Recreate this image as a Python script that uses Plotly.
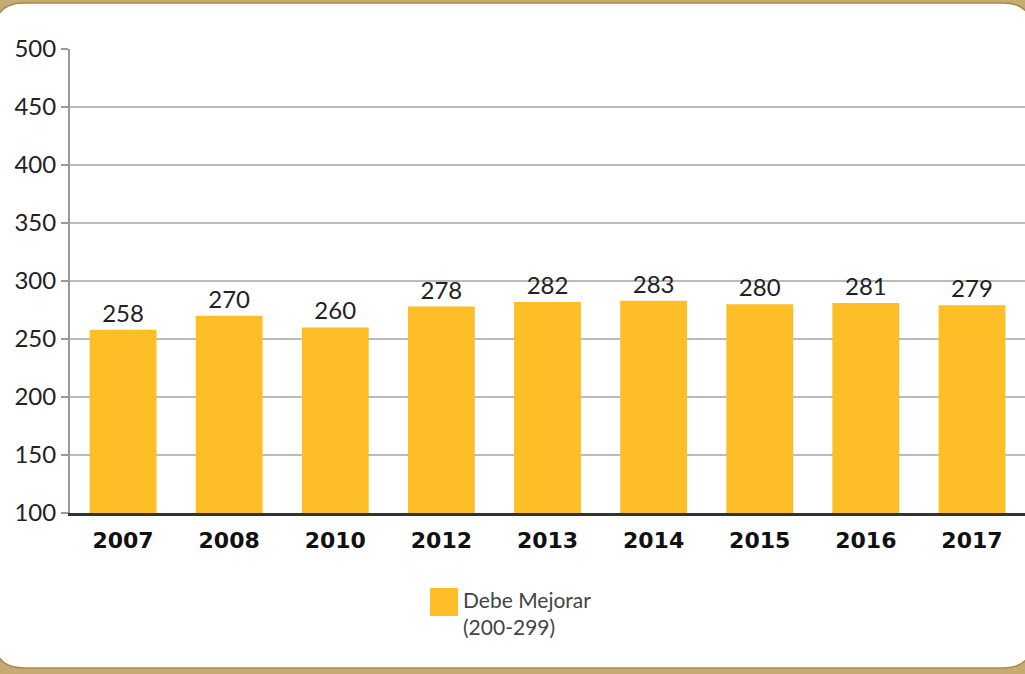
import plotly.graph_objects as go

years = ["2007", "2008", "2010", "2012", "2013", "2014", "2015", "2016", "2017"]
scores = [258, 270, 260, 278, 282, 283, 280, 281, 279]
series_name = "Debe Mejorar"
series_range = "(200-299)"
y_ticks = [100, 150, 200, 250, 300, 350, 400, 450, 500]

BAR = "#FDBE28"
TAN = "#C6AA72"

W, H = 1025, 674
L, R, T, B = 70, 0, 49, 161
pw, ph = W - L - R, H - T - B

def px(x):
    return (x - L) / pw

def py(y):
    return (H - B - y) / ph

fig = go.Figure()
fig.add_trace(go.Bar(
    x=years, y=scores, name=series_name,
    marker=dict(color=BAR, line=dict(width=0)),
    text=[str(v) for v in scores], textposition="outside",
    textfont=dict(family="Lato", size=24, color="#222222"),
    cliponaxis=False, showlegend=False,
))

# rounded white panel
x0, x1, y0, y1, r = -6, 1033, 3, 668, 30
path = (f"M {px(x0)},{py(y0 + r)} Q {px(x0)},{py(y0)} {px(x0 + r)},{py(y0)} "
        f"L {px(x1 - r)},{py(y0)} Q {px(x1)},{py(y0)} {px(x1)},{py(y0 + r)} "
        f"L {px(x1)},{py(y1 - r)} Q {px(x1)},{py(y1)} {px(x1 - r)},{py(y1)} "
        f"L {px(x0 + r)},{py(y1)} Q {px(x0)},{py(y1)} {px(x0)},{py(y1 - r)} Z")
shapes = [dict(type="path", xref="paper", yref="paper", path=path,
               fillcolor="white", line=dict(color="#A88A4E", width=1.5), layer="below")]
# legend swatch
shapes.append(dict(type="rect", xref="paper", yref="paper",
                   x0=px(430), x1=px(458), y0=py(616), y1=py(588),
                   fillcolor=BAR, line=dict(width=0)))

fig.update_layout(
    width=W, height=H,
    margin=dict(l=L, r=R, t=T, b=B),
    paper_bgcolor=TAN, plot_bgcolor="rgba(0,0,0,0)",
    bargap=0.37,
    shapes=shapes,
    annotations=[dict(xref="paper", yref="paper", x=px(461), y=py(613),
                      xanchor="left", yanchor="middle", align="left", showarrow=False,
                      text=f"{series_name}<br>{series_range}",
                      font=dict(family="Lato", size=21, color="#444444"))],
    xaxis=dict(type="category", range=[-0.5, 8.5], showgrid=False,
               showline=True, linecolor="#333333", linewidth=2.5,
               ticks="", tickfont=dict(family="DejaVu Sans", size=22, color="#111111", weight="bold"),
               ticklabelstandoff=6),
    yaxis=dict(range=[100, 500], tickvals=y_ticks, showgrid=True,
               gridcolor="#BBBBBB", gridwidth=1.5, zeroline=False,
               showline=True, linecolor="#999999", linewidth=2,
               ticks="outside", ticklen=7, tickcolor="#999999", tickwidth=1.5,
               tickfont=dict(family="Lato", size=24, color="#222222")),
)

fig.write_html("out.html", config={"displayModeBar": False},
               post_script="document.body.style.margin='0';document.body.style.overflow='hidden';")
